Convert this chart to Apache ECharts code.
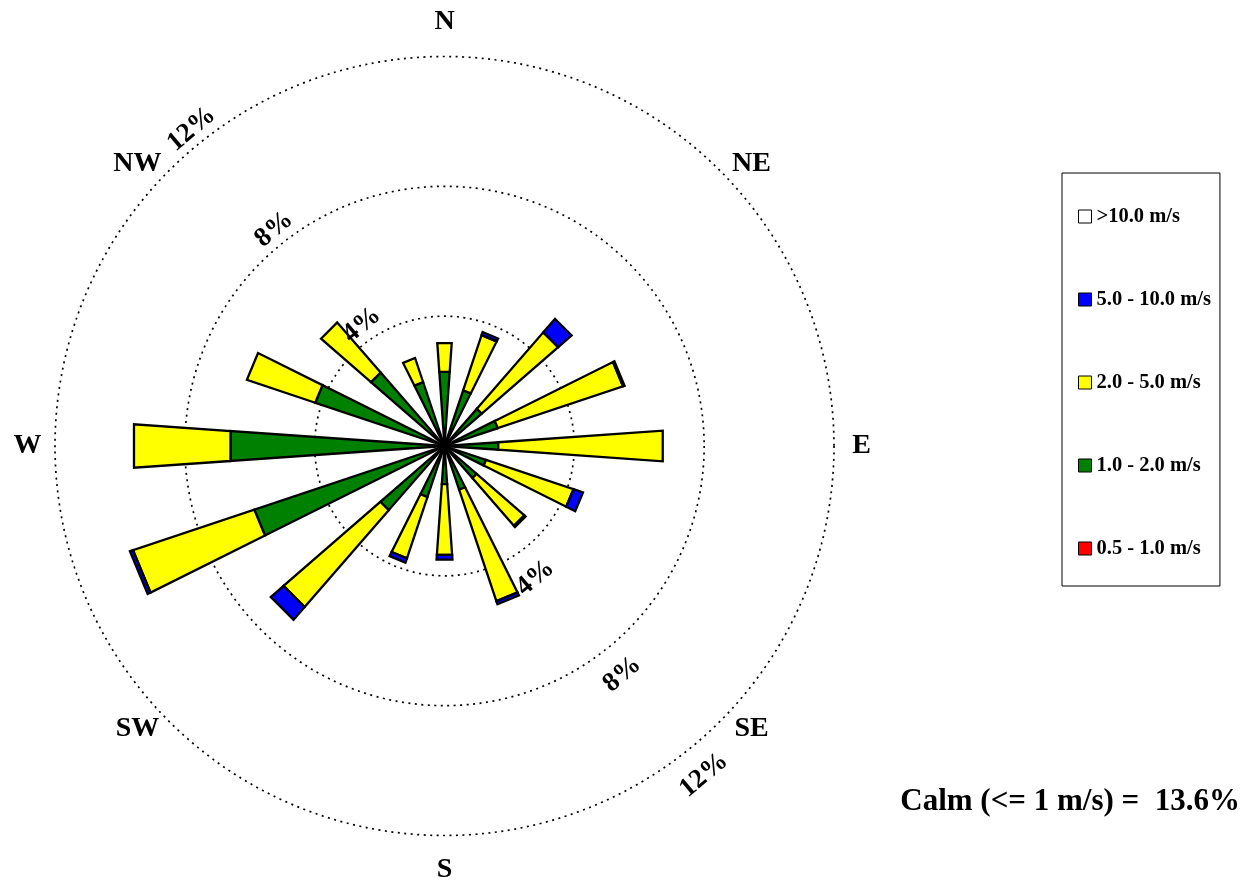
<!DOCTYPE html>
<html>
<head>
<meta charset="utf-8">
<script src="https://cdn.jsdelivr.net/npm/echarts@6/dist/echarts.min.js"></script>
<style>
  html, body { margin: 0; padding: 0; background: #ffffff; }
  #chart { width: 1245px; height: 883px; }
</style>
</head>
<body>
<div id="chart"></div>
<script>
// Sixteen compass sectors, clockwise from north
const directions = ['N', 'NNE', 'NE', 'ENE', 'E', 'ESE', 'SE', 'SSE',
                    'S', 'SSW', 'SW', 'WSW', 'W', 'WNW', 'NW', 'NNW'];

// Frequency (%) of each wind-speed class per sector
const speed05to1  = [0, 0, 0, 0, 0, 0, 0, 0, 0, 0, 0, 0, 0, 0, 0, 0];
const speed1to2   = [2.29, 1.81, 1.52, 1.73, 1.66, 1.35, 1.31, 1.42, 1.18, 1.66, 2.62, 6.18, 6.61, 4.20, 3.00, 2.08];
const speed2to5   = [0.89, 1.79, 3.12, 4.07, 5.08, 2.84, 1.95, 3.62, 2.18, 1.99, 3.95, 3.94, 2.98, 2.22, 2.04, 0.78];
const speed5to10  = [0, 0.10, 0.55, 0.05, 0, 0.31, 0.05, 0.10, 0.15, 0.14, 0.52, 0.10, 0, 0, 0, 0];
const speedOver10 = [0, 0, 0, 0, 0, 0, 0, 0, 0, 0, 0, 0, 0, 0, 0, 0];

const classNames = ['0.5 - 1.0 m/s', '1.0 - 2.0 m/s', '2.0 - 5.0 m/s', '5.0 - 10.0 m/s', '>10.0 m/s'];
const calmPct = 13.6;

// Ring ticks (%) and compass point labels
const ringTicks = [4, 8, 12];
const compassLabels = ['N', 'NE', 'E', 'SE', 'S', 'SW', 'W', 'NW'];

const classes = [speed05to1, speed1to2, speed2to5, speed5to10, speedOver10];
const classColors = ['#ff0000', '#008000', '#ffff00', '#0000ff', '#ffffff'];

const sectorWidth = 360 / directions.length;
const petalHalf = sectorWidth * 0.178;      // petal half-opening in degrees
const serif = '"Liberation Serif", "Times New Roman", Times, serif';

// Stack the classes outward from the centre
const cumulative = directions.map(() => 0);
const petalSeries = classes.map((vals, k) => {
  const data = vals.map((v, i) => {
    const r0 = cumulative[i];
    cumulative[i] += v;
    return [r0, cumulative[i], i * sectorWidth];
  });
  return {
    type: 'custom',
    name: classNames[k],
    coordinateSystem: 'polar',
    silent: true,
    z: 3,
    itemStyle: { color: classColors[k] },
    encode: { radius: [0, 1], angle: 2 },
    data: data,
    renderItem: (params, api) => {
      const r0 = api.value(0), r1 = api.value(1), a = api.value(2);
      if (!(r1 > r0)) return null;
      const pts = [
        api.coord([r0, a - petalHalf]),
        api.coord([r1, a - petalHalf]),
        api.coord([r1, a + petalHalf]),
        api.coord([r0, a + petalHalf])
      ];
      return {
        type: 'polygon',
        shape: { points: pts },
        style: { fill: classColors[k], stroke: '#000000', lineWidth: 2.3, lineJoin: 'miter' }
      };
    }
  };
});

// Percentage labels on the rings, one on each side of the rose
const ringLabelSeries = {
  type: 'custom',
  coordinateSystem: 'polar',
  silent: true,
  z: 4,
  encode: { radius: 0, angle: 1 },
  data: ringTicks.flatMap(t => [[t, 0], [t, 1]]),
  renderItem: (params, api) => {
    const t = api.value(0), side = api.value(1);
    const p = side === 0 ? api.coord([t + 0.08, -42.5]) : api.coord([t + 0.5, 138]);
    return {
      type: 'text',
      x: p[0], y: p[1],
      rotation: 40 * Math.PI / 180,
      style: {
        text: t + '%',
        font: 'bold 27px ' + serif,
        fill: '#000000',
        align: side === 0 ? 'left' : 'right',
        verticalAlign: side === 0 ? 'bottom' : 'top'
      }
    };
  }
};

// Compass point names around the outer ring
const compassSeries = {
  type: 'custom',
  coordinateSystem: 'polar',
  silent: true,
  z: 4,
  encode: { radius: 0, angle: 1 },
  data: compassLabels.map((n, i) => [12, i * 45]),
  renderItem: (params, api) => {
    const i = params.dataIndex;
    let a = api.value(1);
    let r = 12.85;
    if (i % 4 === 0) r = 13.07;                 // N and S
    if (i % 2 === 1) a += (i === 1 || i === 5) ? 2.4 : -2.4;  // diagonals lean toward the E-W line
    const p = api.coord([r, a]);
    return {
      type: 'text',
      x: p[0], y: p[1],
      style: {
        text: compassLabels[i],
        font: 'bold 28px ' + serif,
        fill: '#000000',
        align: 'center',
        verticalAlign: 'middle'
      }
    };
  }
};

const chart = echarts.init(document.getElementById('chart'), null, { renderer: 'canvas' });
chart.setOption({
  animation: false,
  backgroundColor: '#ffffff',
  polar: { center: [444.5, 446], radius: 389.5 },
  angleAxis: {
    type: 'value', min: 0, max: 360, startAngle: 90, clockwise: true,
    axisLine: { show: false }, axisTick: { show: false },
    axisLabel: { show: false }, splitLine: { show: false }
  },
  radiusAxis: {
    type: 'value', min: 0, max: 12, interval: 4,
    axisLine: { show: false }, axisTick: { show: false }, axisLabel: { show: false },
    splitLine: { show: true, lineStyle: { color: '#000000', width: 1.7, type: [2, 4.5] } }
  },
  legend: {
    orient: 'vertical',
    left: 1062, top: 173,
    data: classNames.slice().reverse(),
    icon: 'rect',
    itemWidth: 13, itemHeight: 13, itemGap: 62,
    padding: [33, 9, 27, 16],
    borderColor: '#000000', borderWidth: 1,
    selectedMode: false,
    itemStyle: { borderColor: '#000000', borderWidth: 1 },
    textStyle: { fontFamily: serif, fontWeight: 'bold', fontSize: 20.5, color: '#000000' }
  },
  graphic: [{
    type: 'text',
    right: 5, top: 786,
    style: {
      text: 'Calm (<= 1 m/s) =  ' + calmPct.toFixed(1) + '%',
      font: 'bold 31px ' + serif,
      fill: '#000000'
    }
  }],
  series: [...petalSeries, ringLabelSeries, compassSeries]
});
</script>
</body>
</html>
